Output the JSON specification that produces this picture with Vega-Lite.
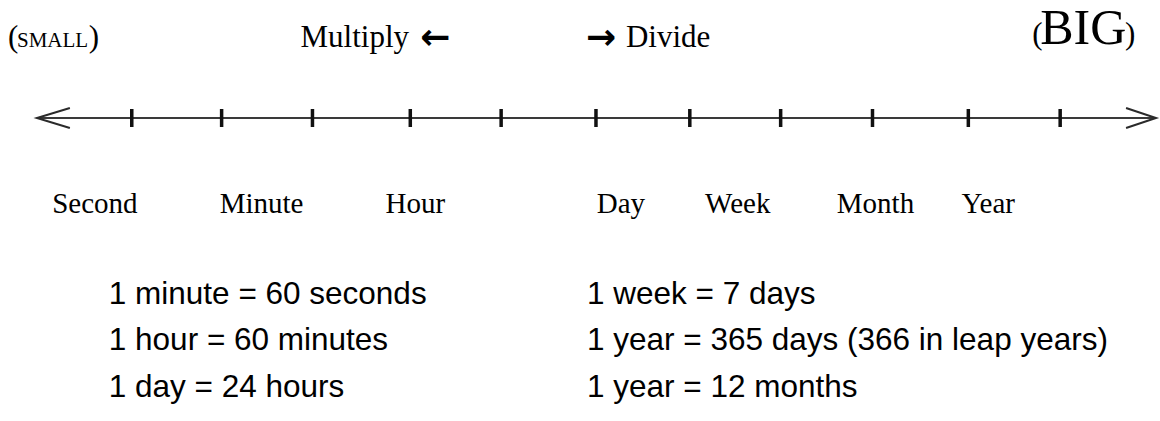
{
  "$schema": "https://vega.github.io/schema/vega-lite/v6.json",
  "width": 1160,
  "height": 421,
  "padding": 0,
  "autosize": {"type": "fit", "contains": "padding"},
  "background": "white",
  "config": {"view": {"stroke": null}},
  "datasets": {
    "axisline": [{"x1": 37, "x2": 1157, "y": 118}],
    "arrows": [
      {"arrow": "left", "i": 0, "x": 70, "y": 108},
      {"arrow": "left", "i": 1, "x": 37, "y": 118},
      {"arrow": "left", "i": 2, "x": 70, "y": 128},
      {"arrow": "right", "i": 0, "x": 1128, "y": 108},
      {"arrow": "right", "i": 1, "x": 1158, "y": 118},
      {"arrow": "right", "i": 2, "x": 1128, "y": 128}
    ],
    "ticks": [
      {"x": 132, "y1": 109, "y2": 127},
      {"x": 222, "y1": 109, "y2": 127},
      {"x": 313, "y1": 109, "y2": 127},
      {"x": 411, "y1": 109, "y2": 127},
      {"x": 502, "y1": 109, "y2": 127},
      {"x": 597, "y1": 109, "y2": 127},
      {"x": 691, "y1": 109, "y2": 127},
      {"x": 782, "y1": 109, "y2": 127},
      {"x": 874, "y1": 109, "y2": 127},
      {"x": 970, "y1": 109, "y2": 127},
      {"x": 1062, "y1": 109, "y2": 127}
    ],
    "units": [
      {"label": "Second", "x": 95, "y": 213},
      {"label": "Minute", "x": 262, "y": 213},
      {"label": "Hour", "x": 416, "y": 213},
      {"label": "Day", "x": 622, "y": 213},
      {"label": "Week", "x": 739, "y": 213},
      {"label": "Month", "x": 877, "y": 213},
      {"label": "Year", "x": 990, "y": 213}
    ],
    "header": [
      {"label": "Multiply", "x": 301, "y": 47},
      {"label": "Divide", "x": 627, "y": 47},
      {"label": "(", "x": 8, "y": 47},
      {"label": ")", "x": 89, "y": 47},
      {"label": "(", "x": 1034, "y": 44},
      {"label": ")", "x": 1127, "y": 44}
    ],
    "headarrows": [
      {"label": "\u2190", "x": 436, "y": 38},
      {"label": "\u2192", "x": 602, "y": 38}
    ],
    "small": [{"label": "SMALL", "x": 17, "y": 47}],
    "big": [{"label": "BIG", "x": 1042, "y": 44}],
    "facts": [
      {"label": "1 minute = 60 seconds", "x": 109, "y": 304},
      {"label": "1 hour = 60 minutes", "x": 109, "y": 350},
      {"label": "1 day = 24 hours", "x": 109, "y": 397},
      {"label": "1 week = 7 days", "x": 588, "y": 304},
      {"label": "1 year = 365 days (366 in leap years)", "x": 588, "y": 350},
      {"label": "1 year = 12 months", "x": 588, "y": 397}
    ]
  },
  "layer": [
    {
      "data": {"name": "axisline"},
      "mark": {"type": "rule", "color": "#3a3a3a", "strokeWidth": 2},
      "encoding": {
        "x": {"field": "x1", "type": "quantitative", "scale": {"domain": [0, 1160], "nice": false, "zero": false}, "axis": null},
        "x2": {"field": "x2"},
        "y": {"field": "y", "type": "quantitative", "scale": {"domain": [0, 421], "nice": false, "zero": false, "reverse": true}, "axis": null}
      }
    },
    {
      "data": {"name": "arrows"},
      "mark": {"type": "line", "color": "#2a2a2a", "strokeWidth": 2},
      "encoding": {
        "x": {"field": "x", "type": "quantitative", "axis": null},
        "y": {"field": "y", "type": "quantitative", "axis": null},
        "detail": {"field": "arrow", "type": "nominal"},
        "order": {"field": "i", "type": "quantitative"}
      }
    },
    {
      "data": {"name": "ticks"},
      "mark": {"type": "rule", "color": "#111111", "strokeWidth": 3.5},
      "encoding": {
        "x": {"field": "x", "type": "quantitative", "axis": null},
        "y": {"field": "y1", "type": "quantitative", "axis": null},
        "y2": {"field": "y2"}
      }
    },
    {
      "data": {"name": "units"},
      "mark": {"type": "text", "font": "Liberation Serif", "fontSize": 29, "align": "center", "baseline": "alphabetic", "color": "#000000"},
      "encoding": {
        "x": {"field": "x", "type": "quantitative", "axis": null},
        "y": {"field": "y", "type": "quantitative", "axis": null},
        "text": {"field": "label", "type": "nominal"}
      }
    },
    {
      "data": {"name": "header"},
      "mark": {"type": "text", "font": "Liberation Serif", "fontSize": 31, "align": "left", "baseline": "alphabetic", "color": "#000000"},
      "encoding": {
        "x": {"field": "x", "type": "quantitative", "axis": null},
        "y": {"field": "y", "type": "quantitative", "axis": null},
        "text": {"field": "label", "type": "nominal"}
      }
    },
    {
      "data": {"name": "headarrows"},
      "mark": {"type": "text", "font": "DejaVu Sans", "fontSize": 36, "fontWeight": "bold", "align": "center", "baseline": "middle", "color": "#000000"},
      "encoding": {
        "x": {"field": "x", "type": "quantitative", "axis": null},
        "y": {"field": "y", "type": "quantitative", "axis": null},
        "text": {"field": "label", "type": "nominal"}
      }
    },
    {
      "data": {"name": "small"},
      "mark": {"type": "text", "font": "Liberation Serif", "fontSize": 21, "align": "left", "baseline": "alphabetic", "color": "#000000"},
      "encoding": {
        "x": {"field": "x", "type": "quantitative", "axis": null},
        "y": {"field": "y", "type": "quantitative", "axis": null},
        "text": {"field": "label", "type": "nominal"}
      }
    },
    {
      "data": {"name": "big"},
      "mark": {"type": "text", "font": "Liberation Serif", "fontSize": 50, "align": "left", "baseline": "alphabetic", "color": "#000000"},
      "encoding": {
        "x": {"field": "x", "type": "quantitative", "axis": null},
        "y": {"field": "y", "type": "quantitative", "axis": null},
        "text": {"field": "label", "type": "nominal"}
      }
    },
    {
      "data": {"name": "facts"},
      "mark": {"type": "text", "font": "Liberation Sans", "fontSize": 31.5, "align": "left", "baseline": "alphabetic", "color": "#000000"},
      "encoding": {
        "x": {"field": "x", "type": "quantitative", "axis": null},
        "y": {"field": "y", "type": "quantitative", "axis": null},
        "text": {"field": "label", "type": "nominal"}
      }
    }
  ]
}
